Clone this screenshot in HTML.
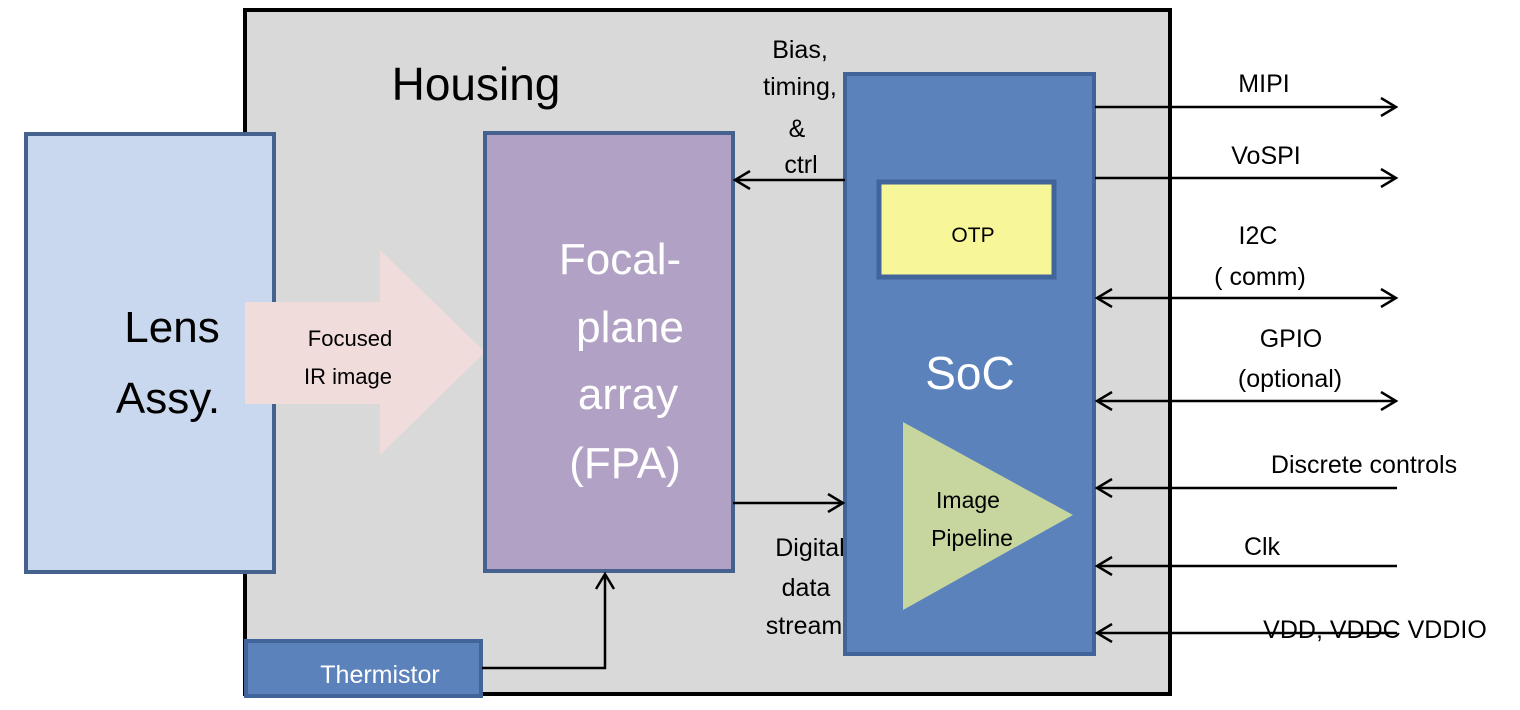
<!DOCTYPE html>
<html><head><meta charset="utf-8"><style>
html,body{margin:0;padding:0;background:#fff;width:1520px;height:710px;overflow:hidden}
svg text{font-family:"Liberation Sans",sans-serif}
</style></head><body>
<svg width="1520" height="710" viewBox="0 0 1520 710" xmlns="http://www.w3.org/2000/svg">
<defs>
<marker id="a" markerWidth="20" markerHeight="20" refX="17" refY="10" orient="auto-start-reverse" markerUnits="userSpaceOnUse">
<path d="M2,1 L17,10 L2,19" fill="none" stroke="#000" stroke-width="2.5"/></marker>
</defs>
<rect x="245" y="10" width="925" height="684" fill="#d9d9d9" stroke="#000" stroke-width="4"/>
<text x="476" y="100" font-size="46" text-anchor="middle">Housing</text>
<rect x="26" y="134" width="248" height="438" fill="#c9d8ee" stroke="#45628f" stroke-width="4"/>
<text x="172" y="342" font-size="44" text-anchor="middle">Lens</text>
<text x="168" y="413" font-size="44" text-anchor="middle">Assy.</text>
<path d="M245,302 L380,302 L380,250 L485,352 L380,455 L380,404 L245,404 Z" fill="#f0dcdb"/>
<text x="350" y="346" font-size="22" text-anchor="middle">Focused</text>
<text x="348" y="384" font-size="22" text-anchor="middle">IR image</text>
<rect x="485" y="133" width="248" height="438" fill="#b1a2c5" stroke="#45628f" stroke-width="4"/>
<g fill="#fff" font-size="44" text-anchor="middle">
<text x="620" y="274">Focal-</text><text x="630" y="342">plane</text>
<text x="628" y="409">array</text><text x="625" y="478">(FPA)</text></g>
<rect x="845" y="74" width="249" height="580" fill="#5b82bb" stroke="#41649a" stroke-width="4"/>
<rect x="879" y="182" width="175" height="95" fill="#f7f79a" stroke="#41649a" stroke-width="5"/>
<text x="973" y="242" font-size="21" text-anchor="middle">OTP</text>
<text x="970" y="389" font-size="46" fill="#fff" text-anchor="middle">SoC</text>
<path d="M903,422 L1073,515 L903,610 Z" fill="#c6d69e"/>
<text x="968" y="508" font-size="23" text-anchor="middle">Image</text>
<text x="972" y="546" font-size="23" text-anchor="middle">Pipeline</text>
<rect x="246" y="641" width="235" height="55" fill="#5b82bb" stroke="#41649a" stroke-width="4"/>
<text x="380" y="683" font-size="25" fill="#fff" text-anchor="middle">Thermistor</text>
<g stroke="#000" stroke-width="2.5" fill="none">
<line x1="845" y1="180" x2="735" y2="180" marker-end="url(#a)"/>
<line x1="733" y1="503" x2="843" y2="503" marker-end="url(#a)"/>
<polyline points="482,668 605,668 605,574" marker-end="url(#a)"/>
<line x1="1095" y1="107" x2="1396" y2="107" marker-end="url(#a)"/>
<line x1="1095" y1="178" x2="1396" y2="178" marker-end="url(#a)"/>
<line x1="1097" y1="298" x2="1396" y2="298" marker-end="url(#a)" marker-start="url(#a)"/>
<line x1="1097" y1="401" x2="1396" y2="401" marker-end="url(#a)" marker-start="url(#a)"/>
<line x1="1397" y1="488" x2="1097" y2="488" marker-end="url(#a)"/>
<line x1="1397" y1="566" x2="1097" y2="566" marker-end="url(#a)"/>
<line x1="1397" y1="633" x2="1097" y2="633" marker-end="url(#a)"/>
</g>
<g font-size="25" text-anchor="middle">
<text x="800" y="58">Bias,</text><text x="800" y="95">timing,</text>
<text x="797" y="137">&amp;</text><text x="801" y="173">ctrl</text>
<text x="810" y="556">Digital</text><text x="806" y="596">data</text><text x="804" y="634">stream</text>
<text x="1264" y="92">MIPI</text><text x="1266" y="164">VoSPI</text>
<text x="1258" y="244">I2C</text><text x="1260" y="285">( comm)</text>
<text x="1291" y="347">GPIO</text><text x="1290" y="387">(optional)</text>
<text x="1364" y="473">Discrete controls</text>
<text x="1262" y="555">Clk</text>
<text x="1375" y="638">VDD, VDDC VDDIO</text>
</g>
</svg>
</body></html>
